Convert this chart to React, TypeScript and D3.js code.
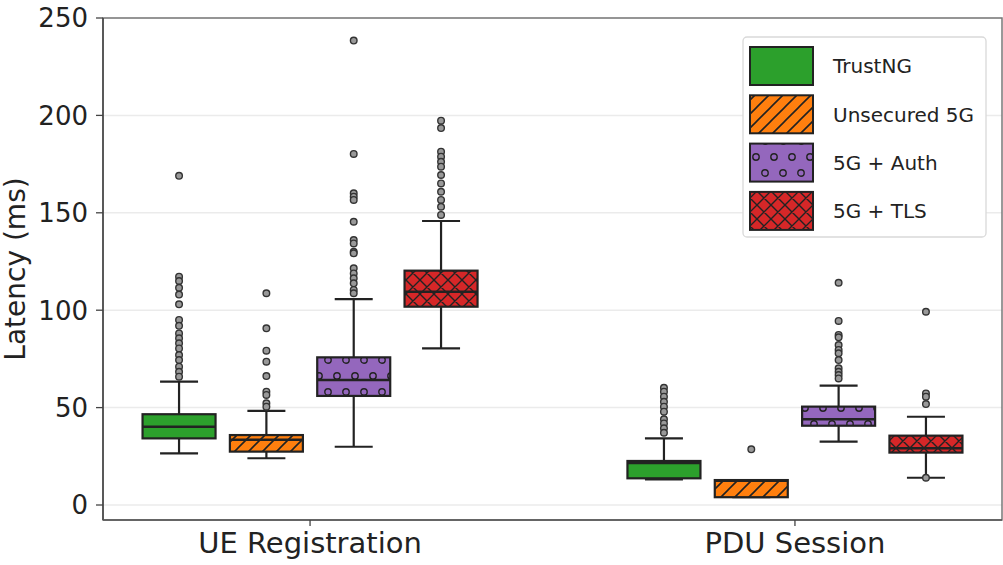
import * as d3 from 'd3';
import React from 'react';

// categories and series
const categories = ['UE Registration', 'PDU Session'];
const seriesNames = ['TrustNG', 'Unsecured 5G', '5G + Auth', '5G + TLS'];
const seriesColors = ['#2ca02c', '#ff7f0e', '#9467bd', '#d62728'];
const seriesHatch = ['none', 'diag', 'circles', 'cross'];
const yTicks = [0, 50, 100, 150, 200, 250];

// box stats per series, one entry per category: [whiskerLow, q1, median, q3, whiskerHigh]
const trustNG = [
  [26.5, 34.2, 40.2, 46.6, 63.3],
  [13.2, 13.7, 21.5, 22.6, 34.2],
];
const unsecured = [
  [24.0, 27.4, 33.5, 35.9, 48.3],
  [4.0, 4.0, 12.5, 12.8, 12.8],
];
const auth = [
  [29.9, 56.0, 64.2, 75.8, 105.7],
  [32.5, 40.7, 44.0, 50.5, 61.3],
];
const tls = [
  [80.4, 101.8, 109.5, 120.3, 145.8],
  [14.0, 26.9, 29.1, 35.6, 45.3],
];

// outliers per series, per category
const trustNGOut = [
  [169, 117.2, 115, 111.5, 108, 103, 95, 92, 88.1, 85.6, 83, 80.4, 77, 74.4, 71, 68.4, 65.9],
  [60.2, 58.2, 55.6, 53, 50.5, 47.9, 44, 41.9, 39.4, 37.1],
];
const unsecuredOut = [
  [108.7, 90.7, 79.2, 73.6, 66.2, 58.2, 56.5, 52.2, 50.5],
  [28.6],
];
const authOut = [
  [238.4, 180.2, 160, 158.3, 156.6, 145.4, 136, 134.3, 130, 129.2, 121.5, 118.9, 116.4, 113.8, 110.4, 108.7],
  [114.1, 94.5, 87.3, 86.1, 82.1, 79.6, 77.9, 74.4, 70.2, 68.4, 66.7, 65],
];
const tlsOut = [
  [197.3, 193.5, 181.4, 178.8, 176.2, 173.7, 169.4, 165.1, 160.8, 156.6, 153.1, 148.9],
  [99.2, 57.3, 55.6, 51.8, 14.0],
];

const allStats = [trustNG, unsecured, auth, tls];
const allOutliers = [trustNGOut, unsecuredOut, authOut, tlsOut];

const W = 1003;
const H = 565;
const plot = { left: 103, right: 1002, top: 18, bottom: 520 };
const font = 'DejaVu Sans, sans-serif';

function Hatches() {
  return (
    <defs>
      <pattern id="hatch-diag" patternUnits="userSpaceOnUse" width="14" height="14">
        <path d="M-2,16 L16,-2 M-2,2 L2,-2 M12,16 L16,12" stroke="#222" strokeWidth="1.6" />
      </pattern>
      <pattern id="hatch-cross" patternUnits="userSpaceOnUse" width="14" height="14">
        <path d="M-1,15 L15,-1 M-1,-1 L15,15 M-1,1 L1,-1 M13,15 L15,13 M-1,13 L1,15 M13,-1 L15,1" stroke="#222" strokeWidth="1.4" />
      </pattern>
      <pattern id="hatch-circles" patternUnits="userSpaceOnUse" width="18" height="32">
        <circle cx="4" cy="8" r="3.2" fill="none" stroke="#222" strokeWidth="1.4" />
        <circle cx="13" cy="24" r="3.2" fill="none" stroke="#222" strokeWidth="1.4" />
      </pattern>
    </defs>
  );
}

export default function App() {
  const y = d3.scaleLinear().domain([-7.7, 250]).range([plot.bottom, plot.top]);
  const x = d3.scalePoint<string>().domain(categories).range([plot.left, plot.right]).padding(0.427);
  const off = d3.scalePoint<string>().domain(seriesNames).range([-131, 131]);
  const boxW = 73;
  const capW = 38;

  return (
    <svg width={W} height={H} style={{ position: 'absolute', left: 0, top: 0, background: '#fff' }} fontFamily={font}>
      <Hatches />
      {/* grid */}
      {yTicks.map((t) => (
        <line key={'g' + t} x1={plot.left} x2={plot.right} y1={y(t)} y2={y(t)} stroke="#ebebeb" strokeWidth={1.5} />
      ))}

      {/* boxes */}
      {seriesNames.map((s, si) =>
        categories.map((c, ci) => {
          const [wl, q1, med, q3, wh] = allStats[si][ci];
          const cx = (x(c) as number) + (off(s) as number);
          const x0 = cx - boxW / 2;
          const hatch = seriesHatch[si];
          return (
            <g key={s + c}>
              <line x1={cx} x2={cx} y1={y(q3)} y2={y(wh)} stroke="#222" strokeWidth={2.2} />
              <line x1={cx} x2={cx} y1={y(q1)} y2={y(wl)} stroke="#222" strokeWidth={2.2} />
              <line x1={cx - capW / 2} x2={cx + capW / 2} y1={y(wh)} y2={y(wh)} stroke="#222" strokeWidth={2.2} />
              <line x1={cx - capW / 2} x2={cx + capW / 2} y1={y(wl)} y2={y(wl)} stroke="#222" strokeWidth={2.2} />
              <rect x={x0} y={y(q3)} width={boxW} height={y(q1) - y(q3)} fill={seriesColors[si]} />
              {hatch !== 'none' && (
                <rect x={x0} y={y(q3)} width={boxW} height={y(q1) - y(q3)} fill={`url(#hatch-${hatch})`} />
              )}
              <rect x={x0} y={y(q3)} width={boxW} height={y(q1) - y(q3)} fill="none" stroke="#222" strokeWidth={2.2} />
              <line x1={x0} x2={x0 + boxW} y1={y(med)} y2={y(med)} stroke="#222" strokeWidth={2.5} />
              {allOutliers[si][ci].map((v, k) => (
                <circle key={k} cx={cx} cy={y(v)} r={3.3} fill="#999" stroke="#333" strokeWidth={1.4} />
              ))}
            </g>
          );
        })
      )}

      {/* frame */}
      <rect x={plot.left} y={plot.top} width={plot.right - plot.left} height={plot.bottom - plot.top} fill="none" stroke="#777" strokeWidth={1.5} />
      <line x1={plot.left} x2={plot.left} y1={plot.top} y2={plot.bottom} stroke="#444" strokeWidth={1.5} />
      <line x1={plot.left} x2={plot.right} y1={plot.bottom} y2={plot.bottom} stroke="#555" strokeWidth={1.5} />

      {/* y axis */}
      {yTicks.map((t) => (
        <g key={'yt' + t}>
          <line x1={plot.left - 7} x2={plot.left} y1={y(t)} y2={y(t)} stroke="#444" strokeWidth={1.3} />
          <text x={plot.left - 15} y={y(t)} dy="0.36em" textAnchor="end" fontSize={26} fill="#222">
            {t}
          </text>
        </g>
      ))}
      <text transform={`translate(25,${(plot.top + plot.bottom) / 2}) rotate(-90)`} textAnchor="middle" fontSize={28} fill="#222">
        Latency (ms)
      </text>

      {/* x axis */}
      {categories.map((c) => (
        <g key={'xt' + c}>
          <line x1={x(c)} x2={x(c)} y1={plot.bottom} y2={plot.bottom + 6} stroke="#444" strokeWidth={1.3} />
          <text x={x(c)} y={plot.bottom + 33} textAnchor="middle" fontSize={29} fill="#222">
            {c}
          </text>
        </g>
      ))}

      {/* legend */}
      <g transform="translate(743,37)">
        <rect x={0} y={0} width={243} height={200} rx={4} fill="#fff" stroke="#d9d9d9" strokeWidth={1.3} />
        {seriesNames.map((s, i) => {
          const py = 10 + i * 48.3;
          return (
            <g key={'lg' + s}>
              <rect x={7} y={py} width={63} height={38} fill={seriesColors[i]} />
              {seriesHatch[i] !== 'none' && (
                <rect x={7} y={py} width={63} height={38} fill={`url(#hatch-${seriesHatch[i]})`} />
              )}
              <rect x={7} y={py} width={63} height={38} fill="none" stroke="#222" strokeWidth={2} />
              <text x={90} y={py + 19} dy="0.36em" fontSize={20} fill="#222">
                {s}
              </text>
            </g>
          );
        })}
      </g>
    </svg>
  );
}
